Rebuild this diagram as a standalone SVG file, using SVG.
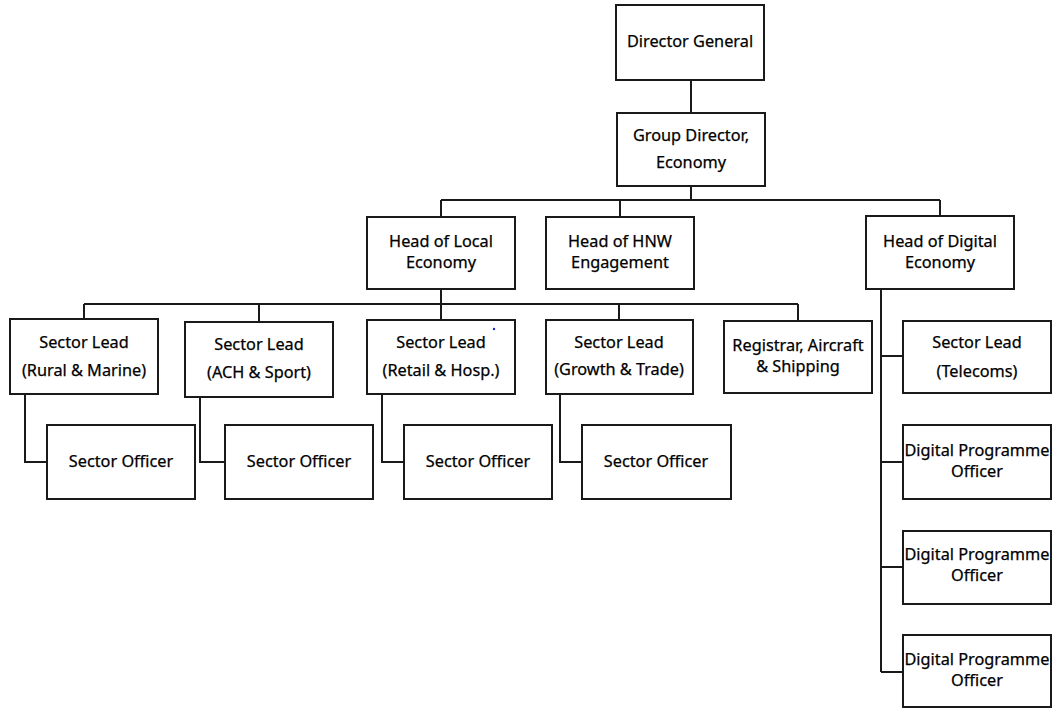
<svg xmlns="http://www.w3.org/2000/svg" width="1061" height="708" viewBox="0 0 1061 708">
<style>
.n rect{fill:#fff;stroke:#1a1a1a;stroke-width:2}
.n text{font-family:"Noto Sans","Open Sans",sans-serif;font-size:16.3px;fill:#000;stroke:#000;stroke-width:0.25;text-anchor:middle;dominant-baseline:middle}
#connectors path{fill:none;stroke:#1a1a1a;stroke-width:2}
</style>
<rect width="1061" height="708" fill="#fff"/>
<g id="connectors">
<path d="M691 80V113"/>
<path d="M691 186V200M441 200H940M441 200V217M620 200V217M940 200V216"/>
<path d="M441 289V304M84 304H798M84 304V319M259 304V322M441 304V320M619 304V320M798 304V320"/>
<path d="M25 394V462H47"/>
<path d="M200 397V462H225"/>
<path d="M382 394V462H404"/>
<path d="M560 394V462H582"/>
<path d="M881 289V672M881 356H903M881 462H903M881 567H903M881 672H903"/>
</g>
<g id="dg" class="n"><rect x="616" y="5" width="148" height="75"/><text x="690" y="43">Director General</text></g>
<g id="gd" class="n"><rect x="617" y="113" width="148" height="73"/><text x="691" y="137">Group Director,</text><text x="691" y="164">Economy</text></g>
<g id="hle" class="n"><rect x="367" y="217" width="148" height="72"/><text x="441" y="243">Head of Local</text><text x="441" y="264">Economy</text></g>
<g id="hhnw" class="n"><rect x="546" y="217" width="148" height="72"/><text x="620" y="243">Head of HNW</text><text x="620" y="264">Engagement</text></g>
<g id="hde" class="n"><rect x="866" y="216" width="148" height="73"/><text x="940" y="243">Head of Digital</text><text x="940" y="264">Economy</text></g>
<g id="slr" class="n"><rect x="10" y="319" width="148" height="75"/><text x="84" y="344">Sector Lead</text><text x="84" y="372">(Rural &amp; Marine)</text></g>
<g id="sla" class="n"><rect x="185" y="322" width="148" height="75"/><text x="259" y="346">Sector Lead</text><text x="259" y="374">(ACH &amp; Sport)</text></g>
<g id="slrh" class="n"><rect x="367" y="320" width="148" height="74"/><text x="441" y="344">Sector Lead</text><text x="441" y="372">(Retail &amp; Hosp.)</text></g>
<g id="slg" class="n"><rect x="546" y="320" width="147" height="74"/><text x="619" y="344">Sector Lead</text><text x="619" y="371">(Growth &amp; Trade)</text></g>
<g id="reg" class="n"><rect x="724" y="321" width="148" height="72"/><text x="798" y="347">Registrar, Aircraft</text><text x="798" y="368">&amp; Shipping</text></g>
<g id="so1" class="n"><rect x="47" y="425" width="148" height="74"/><text x="121" y="463">Sector Officer</text></g>
<g id="so2" class="n"><rect x="225" y="425" width="148" height="74"/><text x="299" y="463">Sector Officer</text></g>
<g id="so3" class="n"><rect x="404" y="425" width="148" height="74"/><text x="478" y="463">Sector Officer</text></g>
<g id="so4" class="n"><rect x="582" y="425" width="149" height="74"/><text x="656" y="463">Sector Officer</text></g>
<g id="slt" class="n"><rect x="903" y="321" width="148" height="72"/><text x="977" y="344">Sector Lead</text><text x="977" y="373">(Telecoms)</text></g>
<g id="dpo1" class="n"><rect x="903" y="425" width="148" height="74"/><text x="977" y="452">Digital Programme</text><text x="977" y="473">Officer</text></g>
<g id="dpo2" class="n"><rect x="903" y="531" width="148" height="73"/><text x="977" y="556">Digital Programme</text><text x="977" y="577">Officer</text></g>
<g id="dpo3" class="n"><rect x="903" y="635" width="148" height="72"/><text x="977" y="661">Digital Programme</text><text x="977" y="682">Officer</text></g>
<circle cx="494" cy="329" r="1.2" fill="#2020d0"/>
</svg>
